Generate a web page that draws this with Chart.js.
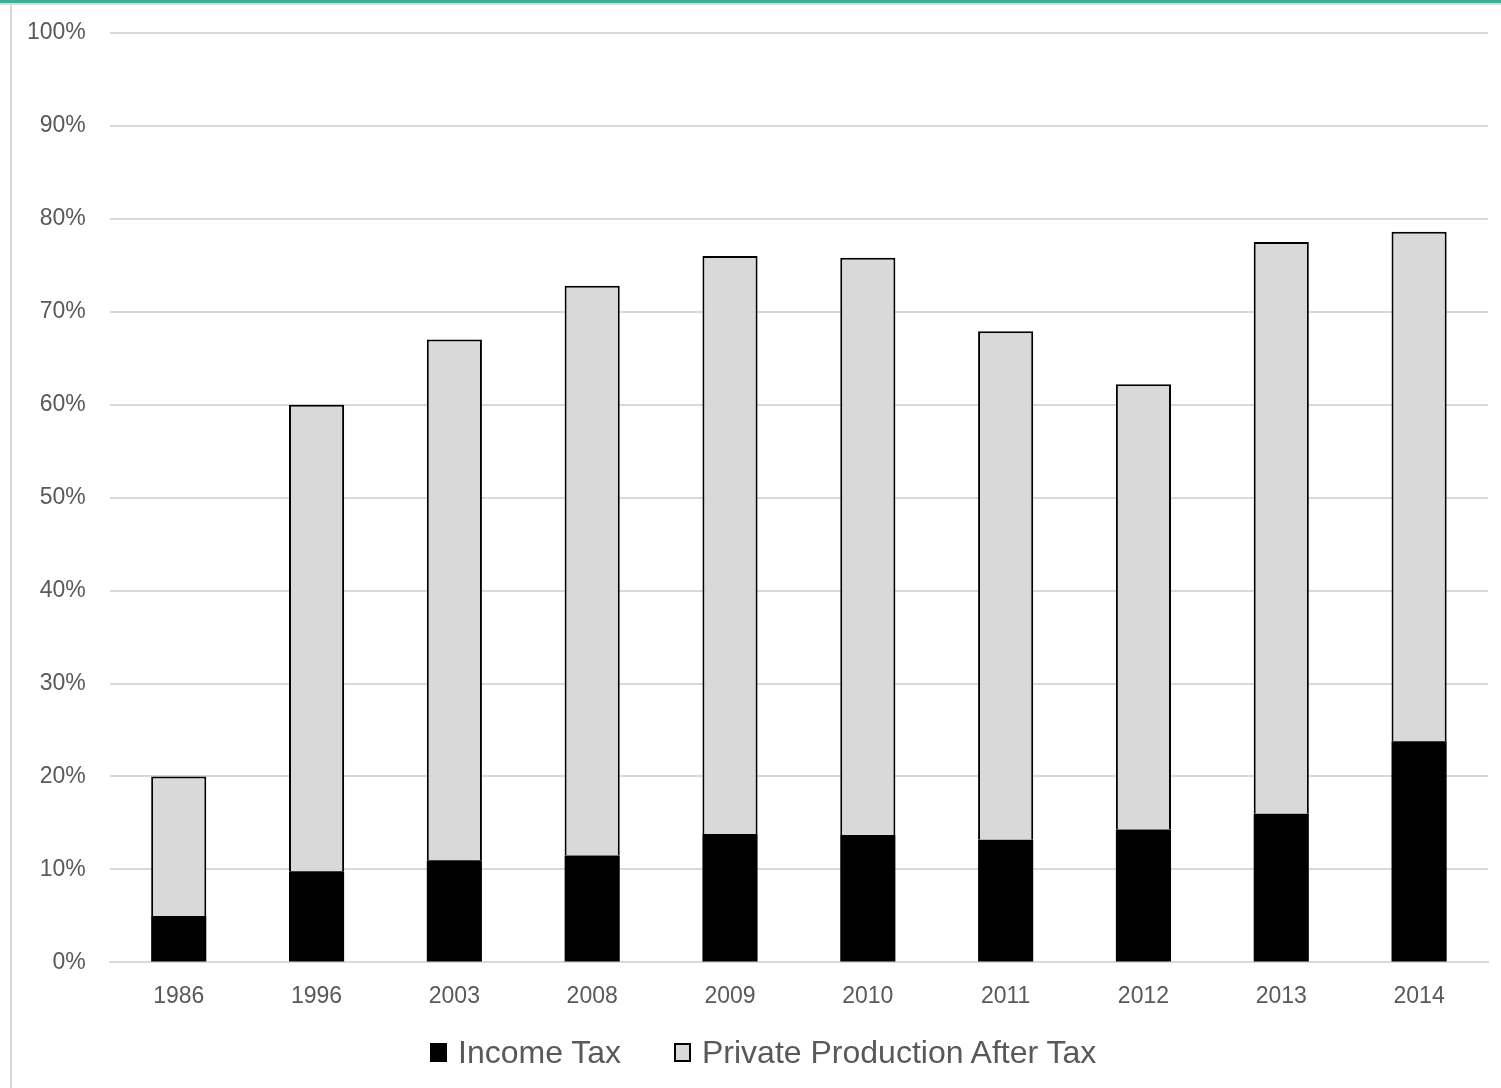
<!DOCTYPE html>
<html>
<head>
<meta charset="utf-8">
<script src="https://cdn.jsdelivr.net/npm/chart.js@4/dist/chart.umd.min.js"></script>
<style>
  html, body { margin: 0; padding: 0; background: #fff; }
  body { width: 1501px; height: 1088px; overflow: hidden; position: relative; font-family: 'Liberation Sans', 'DejaVu Sans', sans-serif; }
  #topbar { position: absolute; left: 0; top: 0; width: 1501px; height: 3px; background: #3fae98; }
  #topline { position: absolute; left: 0; top: 3px; width: 1501px; height: 2px; background: #d9d9d9; }
  #frame { position: absolute; left: 10px; top: 5px; width: 1491px; height: 1083px; border-left: 2px solid #d9d9d9; }
  #wrap { position: absolute; left: 0; top: -5px; width: 1501px; height: 1093px; }
  .leyenda { position: absolute; top: 1032px; height: 40px; line-height: 40px; font-size: 32px; color: #595959; white-space: nowrap; }
  .caja { position: absolute; top: 11px; width: 17px; height: 19px; box-sizing: border-box; }
</style>
</head>
<body>
<div id="topbar"></div>
<div id="topline"></div>
<div id="frame"></div>
<div id="wrap"><canvas id="chart"></canvas></div>
<div id="leyenda"></div>
<script>
// Datos (porcentajes)
var anios = ["1986", "1996", "2003", "2008", "2009", "2010", "2011", "2012", "2013", "2014"];
var impuestoRenta = [5.0, 9.8, 11.0, 11.5, 13.8, 13.7, 13.2, 14.3, 16.0, 23.8];
var produccionPrivada = [15.0, 50.2, 56.0, 61.3, 62.2, 62.1, 54.7, 47.9, 61.5, 54.8];

var fuente = "'Liberation Sans', 'DejaVu Sans', sans-serif";
var gris = "#595959";

var ctx = document.getElementById("chart").getContext("2d");
var chart = new Chart(ctx, {
    type: "bar",
    data: {
        labels: anios,
        datasets: [
            {
                label: "Income Tax",
                backgroundColor: "#000000",
                borderColor: "#000000",
                borderWidth: 0,
                data: impuestoRenta
            },
            {
                label: "Private Production After Tax",
                backgroundColor: "#d9d9d9",
                borderColor: "#000000",
                borderWidth: 2,
                data: produccionPrivada
            }
        ]
    },
    options: {
        responsive: true,
        maintainAspectRatio: false,
        animation: false,
        layout: { padding: { left: 3, right: 13, top: 0, bottom: 66 } },
        datasets: {
            bar: { barPercentage: 0.4, categoryPercentage: 1.0 }
        },
        plugins: {
            tooltip: { enabled: false },
            legend: { display: false }
        },
        scales: {
            x: {
                stacked: true,
                grid: { display: false },
                border: { color: "#d9d9d9", width: 2 },
                ticks: { color: gris, font: { family: fuente, size: 23 }, padding: 12 }
            },
            y: {
                stacked: true,
                min: 0,
                max: 100,
                grid: { color: "#d9d9d9", lineWidth: 2, drawTicks: false },
                border: { display: false },
                ticks: {
                    stepSize: 10,
                    color: gris,
                    font: { family: fuente, size: 23 },
                    padding: 24,
                    callback: function (v) { return v + "%"; }
                }
            }
        }
    }
});

// Leyenda en HTML, con los colores de cada serie
var posiciones = [430, 674];
var contenedor = document.getElementById("leyenda");
chart.data.datasets.forEach(function (ds, i) {
    var item = document.createElement("div");
    item.className = "leyenda";
    item.style.left = posiciones[i] + "px";
    var caja = document.createElement("span");
    caja.className = "caja";
    caja.style.left = "0px";
    caja.style.background = ds.backgroundColor;
    caja.style.border = ds.borderWidth ? "2px solid #000" : "none";
    var texto = document.createElement("span");
    texto.style.marginLeft = "28px";
    texto.textContent = ds.label;
    item.appendChild(caja);
    item.appendChild(texto);
    contenedor.appendChild(item);
});
</script>
</body>
</html>
